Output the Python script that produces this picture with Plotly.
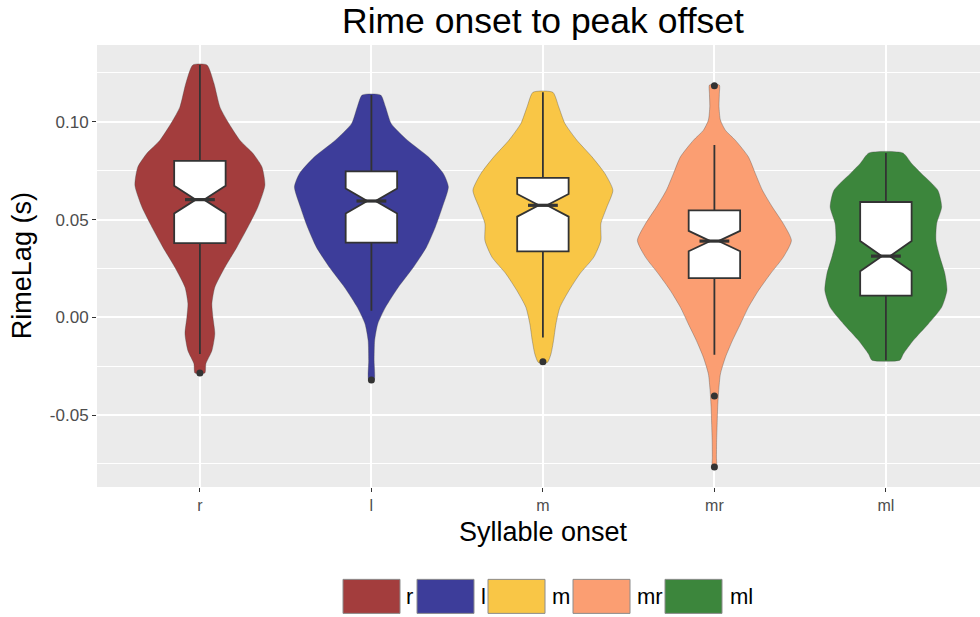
import plotly.graph_objects as go

# ---------------- data ----------------
categories = ["r", "l", "m", "mr", "ml"]
colors = ["#A33D3D", "#3D3D9A", "#F9C646", "#FB9E72", "#3C863C"]

# violin profiles: value levels (s) and half-widths (in category units)
viol_r_y = [0.1291, 0.1197, 0.1075, 0.1000, 0.0906, 0.0839, 0.0769, 0.0675, 0.0564, 0.0462,
            0.0359, 0.0256, 0.0154, 0.0070, 0.0000, -0.0084, -0.0171, -0.0237, -0.0285]
viol_r_w = [0.041, 0.082, 0.117, 0.163, 0.233, 0.309, 0.362, 0.379, 0.338, 0.280,
            0.216, 0.146, 0.087, 0.070, 0.076, 0.087, 0.070, 0.035, 0.029]

viol_l_y = [0.1137, 0.1077, 0.0992, 0.0906, 0.0821, 0.0735, 0.0667, 0.0564, 0.0462, 0.0359,
            0.0256, 0.0154, 0.0051, -0.0034, -0.0119, -0.0222, -0.0321]
viol_l_w = [0.054, 0.082, 0.115, 0.210, 0.332, 0.420, 0.449, 0.414, 0.373, 0.321,
            0.245, 0.157, 0.082, 0.037, 0.019, 0.016, 0.016]

viol_m_y = [0.1151, 0.1077, 0.0992, 0.0906, 0.0821, 0.0735, 0.0650, 0.0564, 0.0479, 0.0393,
            0.0308, 0.0223, 0.0137, 0.0051, -0.0034, -0.0119, -0.0188, -0.0231]
viol_m_w = [0.058, 0.092, 0.128, 0.198, 0.286, 0.362, 0.408, 0.373, 0.338, 0.338,
            0.297, 0.216, 0.152, 0.099, 0.076, 0.062, 0.047, 0.026]

viol_mr_y = [0.1188, 0.1146, 0.1077, 0.1009, 0.0957, 0.0906, 0.0821, 0.0735, 0.0650, 0.0564,
             0.0479, 0.0393, 0.0308, 0.0223, 0.0137, 0.0051, -0.0034, -0.0119, -0.0205, -0.0290,
             -0.0376, -0.0462, -0.0547, -0.0632, -0.0718, -0.0769]
viol_mr_w = [0.029, 0.029, 0.027, 0.035, 0.064, 0.122, 0.198, 0.239, 0.280, 0.338,
             0.402, 0.449, 0.402, 0.327, 0.257, 0.198, 0.152, 0.105, 0.064, 0.035,
             0.025, 0.019, 0.016, 0.013, 0.012, 0.012]

viol_ml_y = [0.0841, 0.0787, 0.0735, 0.0650, 0.0564, 0.0479, 0.0393, 0.0308, 0.0223, 0.0137,
             0.0051, -0.0034, -0.0119, -0.0188, -0.0219]
viol_ml_w = [0.099, 0.150, 0.208, 0.303, 0.325, 0.296, 0.292, 0.315, 0.344, 0.356,
             0.325, 0.247, 0.159, 0.101, 0.082]

violins_y = [viol_r_y, viol_l_y, viol_m_y, viol_mr_y, viol_ml_y]
violins_w = [viol_r_w, viol_l_w, viol_m_w, viol_mr_w, viol_ml_w]

# box statistics
box_q1 = [0.0380, 0.0382, 0.0337, 0.0200, 0.0111]
box_median = [0.0602, 0.0595, 0.0573, 0.0390, 0.0313]
box_q3 = [0.0800, 0.0747, 0.0713, 0.0547, 0.0590]
box_lower = [-0.0188, 0.0034, -0.0103, -0.0191, -0.0219]
box_upper = [0.1291, 0.1137, 0.1151, 0.0881, 0.0841]
box_notch = [0.0071, 0.0064, 0.0058, 0.0052, 0.0077]

# outliers
out_x = ["r", "l", "m", "mr", "mr", "mr"]
out_y = [-0.0285, -0.0321, -0.0227, 0.1185, -0.0402, -0.0766]

ytick_vals = [-0.05, 0.0, 0.05, 0.10]
ytick_text = ["-0.05", "0.00", "0.05", "0.10"]
yminor_vals = [-0.075, -0.025, 0.025, 0.075, 0.125]

# ---------------- figure ----------------
FONT = "Liberation Sans, Arial, sans-serif"
W, H = 980, 617
ML, MT, MR = 97, 45, 0
MB = H - 486.7
PW, PH = W - ML - MR, H - MT - MB
UNIT_PX = 171.5               # pixels per category step in the reference
BOX_W = 0.30
NOTCH_W = 0.42
X_RANGE = [-0.6, -0.6 + PW / UNIT_PX]
Y_RANGE = [-0.0868, 0.1393]

fig = go.Figure()
pos = {c: i for i, c in enumerate(categories)}

for i, c in enumerate(categories):
    ys, ws = violins_y[i], violins_w[i]
    xs = [i + w for w in ws] + [i - w for w in ws[::-1]]
    yy = ys + ys[::-1]
    fig.add_trace(go.Scatter(
        x=xs + [xs[0]], y=yy + [yy[0]], mode="lines", fill="toself",
        fillcolor=colors[i], line=dict(color="rgba(60,60,60,0.55)", width=0.6, shape="spline", smoothing=0.6),
        name=c, showlegend=False, hoverinfo="skip", xaxis="x", yaxis="y"))

for i, c in enumerate(categories):
    fig.add_trace(go.Box(
        x=[i], q1=[box_q1[i]], median=[box_median[i]], q3=[box_q3[i]],
        lowerfence=[box_lower[i]], upperfence=[box_upper[i]], notchspan=[box_notch[i]],
        notched=True, notchwidth=NOTCH_W, width=BOX_W, whiskerwidth=0,
        fillcolor="white", line=dict(color="#333333", width=1.8),
        boxpoints=False, showlegend=False, hoverinfo="skip", xaxis="x2", yaxis="y2"))

for i, c in enumerate(categories):
    half = BOX_W / 2 * (1 - NOTCH_W)
    fig.add_trace(go.Scatter(
        x=[i - half, i + half], y=[box_median[i]] * 2, mode="lines",
        line=dict(color="#333333", width=3.2), showlegend=False, hoverinfo="skip",
        xaxis="x2", yaxis="y2"))

fig.add_trace(go.Scatter(
    x=[pos[c] for c in out_x], y=out_y, mode="markers",
    marker=dict(color="#333333", size=7), showlegend=False, hoverinfo="skip",
    xaxis="x2", yaxis="y2"))

fig.update_layout(
    width=W, height=H, margin=dict(l=ML, r=MR, t=MT, b=MB, autoexpand=False),
    paper_bgcolor="white", plot_bgcolor="#EBEBEB",
    font=dict(family=FONT, color="#000000"),
    boxmode="overlay",
    xaxis=dict(range=X_RANGE, tickvals=list(range(len(categories))), ticktext=categories,
               showgrid=True, gridcolor="white", gridwidth=2, zeroline=False,
               ticks="outside", ticklen=4, tickcolor="#333333", tickwidth=1.2,
               tickfont=dict(size=16, color="#4D4D4D", family=FONT), showline=False),
    yaxis=dict(range=Y_RANGE, tickvals=ytick_vals, ticktext=ytick_text,
               showgrid=True, gridcolor="white", gridwidth=2, zeroline=False,
               ticks="outside", ticklen=4, tickcolor="#333333", tickwidth=1.2,
               tickfont=dict(size=17, color="#4D4D4D", family=FONT), showline=False,
               minor=dict(tickvals=yminor_vals, showgrid=True, gridcolor="white", gridwidth=1, ticks="")),
    xaxis2=dict(range=X_RANGE, overlaying="x", visible=False, showgrid=False, zeroline=False),
    yaxis2=dict(range=Y_RANGE, overlaying="y", visible=False, showgrid=False, zeroline=False),
)

def px_x(px):
    return (px - ML) / PW

def px_y(py):
    return (H - MB - py) / PH

annotations = [
    dict(text="Rime onset to peak offset", x=px_x(543), y=px_y(21), xref="paper", yref="paper",
         showarrow=False, font=dict(size=35.5, family=FONT, color="black"), xanchor="center", yanchor="middle"),
    dict(text="Syllable onset", x=px_x(543), y=px_y(532), xref="paper", yref="paper",
         showarrow=False, font=dict(size=27, family=FONT, color="black"), xanchor="center", yanchor="middle"),
    dict(text="RimeLag (s)", x=px_x(22), y=px_y(266), xref="paper", yref="paper", textangle=-90,
         showarrow=False, font=dict(size=27, family=FONT, color="black"), xanchor="center", yanchor="middle"),
]

# legend drawn manually (large ggplot-style keys)
key_left = [343, 417, 488, 573, 665]
label_left = [404, 479, 550, 635, 728]
shapes = []
for i, c in enumerate(categories):
    shapes.append(dict(type="rect", xref="paper", yref="paper",
                       x0=px_x(key_left[i]), x1=px_x(key_left[i] + 57), y0=px_y(613), y1=px_y(579),
                       fillcolor=colors[i], line=dict(color="#8C8C8C", width=1)))
    annotations.append(dict(text=c, x=px_x(label_left[i]), y=px_y(596), xref="paper", yref="paper",
                            showarrow=False, xanchor="left", yanchor="middle",
                            font=dict(size=22, family=FONT, color="black")))

fig.update_layout(annotations=annotations, shapes=shapes)
fig.write_html("out.html", config={"displayModeBar": False},
               post_script="document.body.style.margin='0px';document.body.style.overflow='hidden';")
